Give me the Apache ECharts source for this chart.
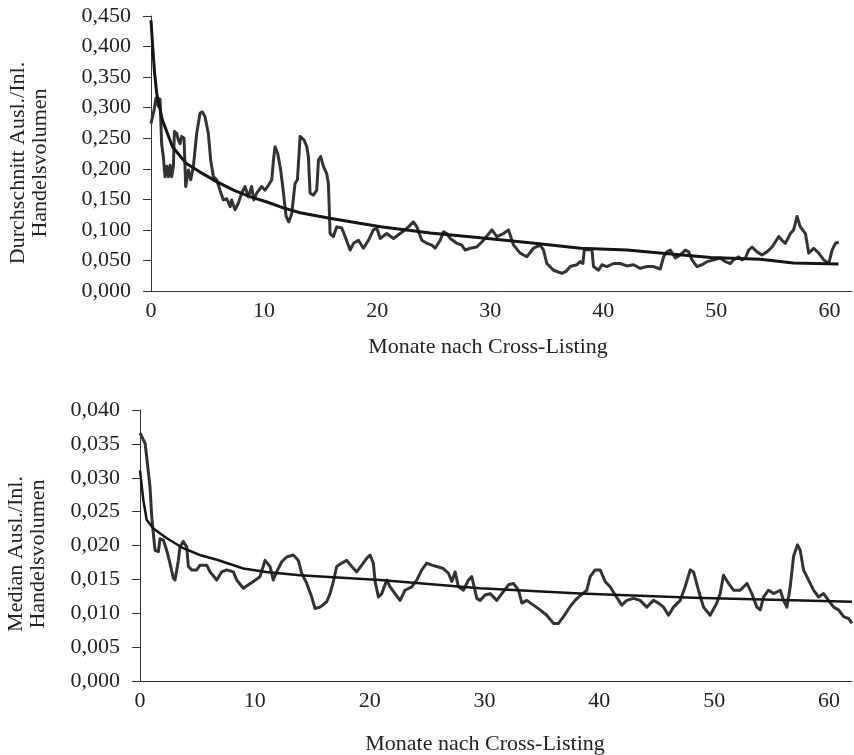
<!DOCTYPE html>
<html>
<head>
<meta charset="utf-8">
<script src="https://cdn.jsdelivr.net/npm/echarts@6/dist/echarts.min.js"></script>
<style>
html,body{margin:0;padding:0;background:#fff;}
#chart{width:854px;height:755px;}
</style>
</head>
<body>
<div id="chart"></div>
<script>
// ---- Data (months after cross-listing, ratio foreign/domestic trading volume) ----
var xTicks = [0, 10, 20, 30, 40, 50, 60];

var avgMonths = [0,0.27,0.44,0.65,0.8,0.94,1.09,1.24,1.39,1.54,1.69,1.83,1.98,2.07,2.27,2.42,2.57,2.71,2.92,3.07,3.31,3.51,3.75,4.04,4.34,4.55,4.78,4.93,5.07,5.28,5.52,5.81,6.1,6.4,6.7,7.0,7.13,7.43,7.73,8.02,8.32,8.61,8.9,9.1,9.35,9.79,10.09,10.38,10.68,10.83,10.97,11.21,11.47,11.65,11.95,12.18,12.45,12.74,12.95,13.19,13.33,13.54,13.78,13.92,14.07,14.37,14.66,14.81,15.01,15.25,15.54,15.69,15.84,16.13,16.43,16.87,17.17,17.61,17.91,18.35,18.79,19.23,19.67,19.97,20.27,20.85,21.45,22.03,22.48,22.77,23.21,23.51,23.95,24.4,24.84,25.13,25.58,25.87,26.17,26.46,27.05,27.49,27.79,28.23,28.81,29.41,30.15,30.59,31.18,31.62,32.07,32.65,33.24,33.83,34.42,34.72,35.01,35.6,36.34,36.7,37.08,37.67,37.96,38.2,38.32,38.7,39.0,39.14,39.58,39.88,40.32,40.91,41.5,42.09,42.68,43.27,43.86,44.45,45.04,45.34,45.63,45.93,46.37,46.81,47.26,47.55,47.85,48.29,48.73,49.18,49.77,50.35,50.8,51.24,51.53,51.98,52.27,52.57,52.86,53.16,53.6,54.04,54.48,54.93,55.52,55.81,56.11,56.55,56.84,57.14,57.43,57.88,58.17,58.61,59.06,59.5,59.94,60.24,60.53,60.83];
var avgValues = [0.274,0.296,0.316,0.302,0.314,0.241,0.220,0.187,0.204,0.187,0.206,0.187,0.204,0.261,0.258,0.247,0.241,0.253,0.250,0.171,0.198,0.182,0.204,0.258,0.291,0.293,0.285,0.288,0.258,0.214,0.187,0.182,0.165,0.149,0.151,0.138,0.149,0.133,0.144,0.160,0.171,0.154,0.171,0.149,0.160,0.171,0.165,0.173,0.182,0.214,0.236,0.225,0.198,0.171,0.122,0.113,0.127,0.176,0.182,0.253,0.255,0.247,0.236,0.220,0.160,0.157,0.165,0.214,0.220,0.204,0.192,0.176,0.094,0.089,0.105,0.103,0.089,0.067,0.078,0.083,0.070,0.083,0.100,0.103,0.086,0.094,0.086,0.094,0.100,0.105,0.113,0.105,0.083,0.078,0.075,0.070,0.083,0.097,0.094,0.086,0.078,0.075,0.067,0.070,0.072,0.083,0.100,0.089,0.094,0.100,0.075,0.062,0.056,0.070,0.075,0.067,0.045,0.034,0.029,0.032,0.040,0.043,0.048,0.045,0.067,0.068,0.067,0.040,0.034,0.043,0.040,0.045,0.045,0.041,0.043,0.037,0.040,0.040,0.036,0.056,0.064,0.067,0.054,0.059,0.067,0.064,0.051,0.040,0.043,0.048,0.051,0.054,0.048,0.045,0.051,0.056,0.051,0.054,0.067,0.072,0.064,0.059,0.064,0.072,0.089,0.083,0.078,0.094,0.100,0.122,0.105,0.094,0.062,0.070,0.062,0.051,0.045,0.067,0.078,0.080];

var avgTrendMonths = [0,0.15,0.3,0.5,1.0,1.9,3.1,4.3,5.8,7.3,8.8,10.2,11.7,13.2,15.8,20.3,24.7,29.1,33.5,38.0,42.1,45.0,49.5,53.9,56.8,60.8];
var avgTrendValues = [0.443,0.400,0.360,0.324,0.280,0.236,0.209,0.195,0.179,0.165,0.154,0.146,0.136,0.128,0.119,0.105,0.095,0.087,0.079,0.070,0.067,0.062,0.055,0.052,0.046,0.044];

var medMonths = [0,0.15,0.44,0.58,0.87,1.02,1.16,1.31,1.6,1.74,2.03,2.32,2.61,2.9,3.05,3.34,3.48,3.77,4.07,4.21,4.5,4.94,5.23,5.81,6.1,6.68,7.11,7.55,8.13,8.42,9.0,9.44,9.87,10.45,10.89,11.32,11.61,11.9,12.34,12.77,13.35,13.79,14.08,14.52,14.95,15.24,15.68,16.26,16.55,16.84,17.13,17.57,18.0,18.44,18.87,19.31,19.74,20.03,20.32,20.47,20.76,21.05,21.49,21.78,22.21,22.65,23.08,23.66,24.1,24.54,24.97,25.41,25.84,26.42,26.86,27.15,27.44,27.73,28.17,28.6,28.89,29.33,29.62,30.05,30.49,31.07,31.51,32.09,32.52,32.96,33.25,33.68,34.26,34.84,35.42,36.0,36.44,36.88,37.46,37.89,38.33,38.91,39.2,39.63,40.07,40.5,40.94,41.38,41.95,42.39,42.97,43.55,44.13,44.71,45.15,45.59,46.02,46.46,47.04,47.47,47.91,48.2,48.63,49.07,49.65,50.23,50.52,50.81,51.25,51.68,52.27,52.85,53.28,53.72,54.01,54.3,54.73,55.17,55.75,56.04,56.33,56.62,56.91,57.26,57.49,57.78,58.22,58.65,59.09,59.52,59.96,60.4,60.83,61.27,61.71,62.0];
var medValues = [0.0366,0.0368,0.0351,0.0331,0.0287,0.0243,0.0218,0.0193,0.0191,0.0210,0.0208,0.0193,0.0174,0.0152,0.0149,0.0178,0.0198,0.0206,0.0198,0.0169,0.0164,0.0164,0.0171,0.0171,0.0161,0.0149,0.0161,0.0164,0.0161,0.0149,0.0137,0.0142,0.0147,0.0154,0.0178,0.0169,0.0149,0.0161,0.0176,0.0183,0.0186,0.0178,0.0159,0.0144,0.0124,0.0107,0.0109,0.0117,0.0129,0.0147,0.0169,0.0174,0.0178,0.0169,0.0161,0.0171,0.0181,0.0186,0.0174,0.0147,0.0124,0.0129,0.0149,0.0139,0.0129,0.0119,0.0134,0.0139,0.0149,0.0164,0.0174,0.0171,0.0169,0.0166,0.0159,0.0147,0.0161,0.0139,0.0134,0.0149,0.0154,0.0122,0.0119,0.0127,0.0129,0.0119,0.0129,0.0142,0.0144,0.0134,0.0115,0.0119,0.0112,0.0105,0.0097,0.0085,0.0085,0.0095,0.0110,0.0119,0.0126,0.0134,0.0154,0.0164,0.0164,0.0147,0.0139,0.0127,0.0112,0.0119,0.0122,0.0119,0.0109,0.0119,0.0115,0.0109,0.0097,0.0109,0.0119,0.0139,0.0164,0.0161,0.0134,0.0109,0.0097,0.0115,0.0129,0.0156,0.0144,0.0134,0.0134,0.0144,0.0129,0.0109,0.0105,0.0124,0.0134,0.0129,0.0134,0.0119,0.0109,0.0139,0.0184,0.0201,0.0193,0.0164,0.0149,0.0134,0.0124,0.0129,0.0119,0.0109,0.0105,0.0095,0.0092,0.0085];

var medTrendMonths = [0,0.29,0.58,1.16,2.3,3.77,5.2,6.7,9.0,11.0,13.9,20.9,29.6,38.3,48.2,62.0];
var medTrendValues = [0.0311,0.0267,0.0238,0.0225,0.0211,0.0196,0.0186,0.0179,0.0166,0.0161,0.0156,0.0149,0.0137,0.0129,0.0123,0.0117];

var xTitle = 'Monate nach Cross-Listing';
var yTitleTop = 'Durchschnitt Ausl./Inl.\nHandelsvolumen';
var yTitleBottom = 'Median Ausl./Inl.\nHandelsvolumen';

function pairs(xs, ys) { return xs.map(function (x, i) { return [x, ys[i]]; }); }

var FONT = 'Liberation Serif';
var TXT = '#222';
var AX = '#333';

function xAxisCfg(idx) {
  return {
    type: 'value', gridIndex: idx, min: 0, max: 62, interval: 10,
    axisLine: { show: true, lineStyle: { color: AX, width: 1 } },
    axisTick: { show: false },
    splitLine: { show: false },
    axisLabel: {
      color: TXT, fontFamily: FONT, fontSize: 22, margin: 9,
      showMaxLabel: false,
      formatter: function (v) { return xTicks.indexOf(v) >= 0 ? String(v) : ''; }
    }
  };
}
function yAxisCfg(idx, max, interval) {
  return {
    type: 'value', gridIndex: idx, min: 0, max: max, interval: interval,
    axisLine: { show: true, lineStyle: { color: AX, width: 1 } },
    axisTick: { show: true, length: 8, lineStyle: { color: AX } },
    splitLine: { show: false },
    axisLabel: {
      color: TXT, fontFamily: FONT, fontSize: 22, margin: 20,
      formatter: function (v) { return v.toFixed(3).replace('.', ','); }
    }
  };
}
function lineSeries(idx, data, color, width) {
  return {
    type: 'line', xAxisIndex: idx, yAxisIndex: idx, data: data,
    showSymbol: false, symbol: 'none', animation: false,
    lineStyle: { color: color, width: width, join: 'round' }
  };
}

var chart = echarts.init(document.getElementById('chart'), null, { renderer: 'canvas' });
chart.setOption({
  backgroundColor: '#fff',
  animation: false,
  grid: [
    { left: 151, top: 16, width: 701, height: 275 },
    { left: 140, top: 410, width: 712, height: 271 }
  ],
  xAxis: [xAxisCfg(0), xAxisCfg(1)],
  yAxis: [yAxisCfg(0, 0.45, 0.05), yAxisCfg(1, 0.04, 0.005)],
  series: [
    lineSeries(0, pairs(avgMonths, avgValues), '#333', 3),
    lineSeries(0, pairs(avgTrendMonths, avgTrendValues), '#151515', 3),
    lineSeries(1, pairs(medMonths, medValues), '#333', 3),
    lineSeries(1, pairs(medTrendMonths, medTrendValues), '#151515', 2.5)
  ],
  graphic: [
    { type: 'text', x: 488, y: 347, style: { text: xTitle, font: '22px "' + FONT + '"', fill: TXT, textAlign: 'center', textVerticalAlign: 'middle' } },
    { type: 'text', x: 485, y: 744, style: { text: xTitle, font: '22px "' + FONT + '"', fill: TXT, textAlign: 'center', textVerticalAlign: 'middle' } },
    { type: 'text', x: 29, y: 163, rotation: Math.PI / 2, style: { text: yTitleTop, font: '22px "' + FONT + '"', lineHeight: 22, fill: TXT, textAlign: 'center', textVerticalAlign: 'middle' } },
    { type: 'text', x: 27, y: 554, rotation: Math.PI / 2, style: { text: yTitleBottom, font: '22px "' + FONT + '"', lineHeight: 22, fill: TXT, textAlign: 'center', textVerticalAlign: 'middle' } }
  ]
});
</script>
</body>
</html>
